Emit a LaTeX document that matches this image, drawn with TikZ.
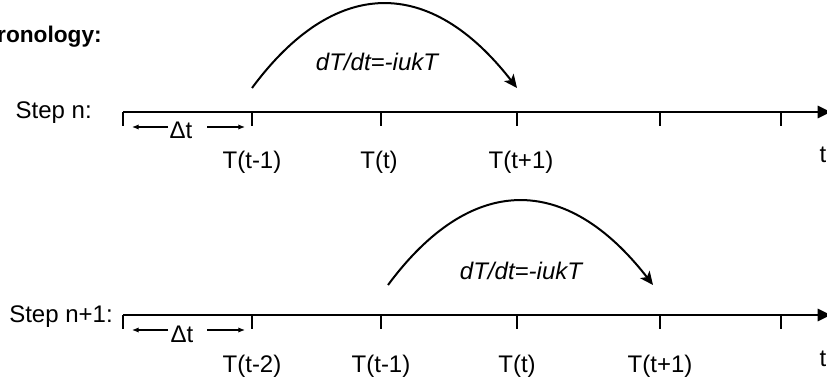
\documentclass[tikz,border=0pt]{standalone}
\usepackage{fontspec}
\setmainfont{Liberation Sans}
\usetikzlibrary{arrows.meta}
\begin{document}
\begin{tikzpicture}[x=0.75pt,y=-0.75pt,
  lbl/.style={font=\fontsize{18}{20}\selectfont, inner sep=0pt, anchor=base},
  ttl/.style={font=\fontsize{17}{20}\selectfont\bfseries, inner sep=0pt, anchor=base east},
  eqn/.style={font=\fontsize{18}{20}\selectfont\itshape, inner sep=0pt, anchor=base},
  axisline/.style={line width=2.2pt, -{Triangle[length=10pt,width=9pt]}},
  tickline/.style={line width=1.6pt},
  arcline/.style={line width=1.5pt, -{Stealth[length=10pt,width=9pt,inset=2.5pt]}},
  dtarrow/.style={line width=0.9pt, -{Latex[length=5pt,width=4pt]}},
]
\useasboundingbox (0,0) rectangle (827,381);

% title
\node[ttl] (title) at (102,43) {ronology:};

% ---------- Step n ----------
\node[lbl, anchor=base east] (stepn) at (92,118) {Step n:};
\coordinate (A0) at (123,112);
\coordinate (A0d) at (123,126);
\coordinate (Aend) at (831,112);
\draw[axisline] (A0) -- (Aend);
\draw[tickline] (A0) -- (A0d);
\foreach \x/\n in {252/1,381/2,517/3,660/4,781/5}{
  \coordinate (At\n) at (\x,112);
  \coordinate (Ab\n) at (\x,126);
  \draw[tickline] (At\n) -- (Ab\n);
}
\node[lbl] (Tn1) at (252,168) {T(t-1)};
\node[lbl] (Tn2) at (379,168) {T(t)};
\node[lbl] (Tn3) at (521,168) {T(t+1)};
\node[lbl] (tn) at (823,162) {t};
% delta t
\node[lbl] (dtn) at (181,138) {Δt};
\coordinate (dtnL) at (132,127);
\coordinate (dtnR) at (245,127);
\coordinate (dtnLs) at (168,127);
\coordinate (dtnRs) at (207,127);
\draw[dtarrow] (dtnLs) -- (dtnL);
\draw[dtarrow] (dtnRs) -- (dtnR);
% arc
\coordinate (cn1) at (252,88);
\coordinate (cn2) at (517,88);
\draw[arcline] (cn1) .. controls (335,-24) and (430,-24) .. (cn2);
\node[eqn] (eqn1) at (377,71) {dT/dt=-iukT};

% ---------- Step n+1 ----------
\node[lbl, anchor=base east] (stepn1) at (113,322) {Step n+1:};
\coordinate (B0) at (123,315);
\coordinate (B0d) at (123,329);
\coordinate (Bend) at (831,315);
\draw[axisline] (B0) -- (Bend);
\draw[tickline] (B0) -- (B0d);
\foreach \x/\n in {252/1,381/2,517/3,660/4,781/5}{
  \coordinate (Bt\n) at (\x,315);
  \coordinate (Bb\n) at (\x,329);
  \draw[tickline] (Bt\n) -- (Bb\n);
}
\node[lbl] (Tm1) at (252,372) {T(t-2)};
\node[lbl] (Tm2) at (381,372) {T(t-1)};
\node[lbl] (Tm3) at (517,372) {T(t)};
\node[lbl] (Tm4) at (660,372) {T(t+1)};
\node[lbl] (tm) at (823,366) {t};
% delta t
\node[lbl] (dtm) at (182,342) {Δt};
\coordinate (dtmL) at (132,330);
\coordinate (dtmR) at (245,330);
\coordinate (dtmLs) at (168,330);
\coordinate (dtmRs) at (207,330);
\draw[dtarrow] (dtmLs) -- (dtmL);
\draw[dtarrow] (dtmRs) -- (dtmR);
% arc
\coordinate (cm1) at (388,285);
\coordinate (cm2) at (653,285);
\draw[arcline] (cm1) .. controls (471,173) and (566,173) .. (cm2);
\node[eqn] (eqn2) at (521,279) {dT/dt=-iukT};
\end{tikzpicture}
\end{document}
